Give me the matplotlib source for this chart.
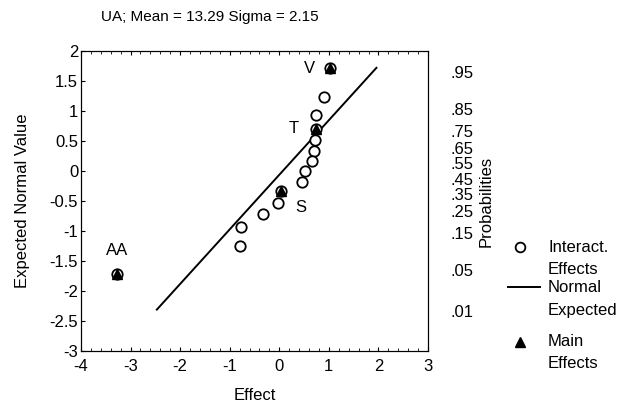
import numpy as np
import matplotlib
matplotlib.use("Agg")
import matplotlib.pyplot as plt
from matplotlib.lines import Line2D
from statistics import NormalDist

# DATA ################################################################
# Interaction effects (open circles)
inter_x = [0.90, 0.74, 0.72, 0.71, 0.67, 0.52, 0.45, -0.02, -0.32, -0.78, -0.79]
inter_y = [1.23, 0.93, 0.52, 0.33, 0.16, 0.00, -0.18, -0.53, -0.71, -0.94, -1.25]

# Main effects (filled triangles)
main_x = [1.03, 0.74, 0.03, -3.28]
main_y = [1.71, 0.70, -0.34, -1.71]

# Labels next to the effects
lbl_text = ["V", "T", "S", "AA"]
lbl_x = [0.60, 0.30, 0.44, -3.28]
lbl_y = [1.71, 0.71, -0.61, -1.33]

# Normal expected line end points
line_x = [-2.47, 1.96]
line_y = [-2.31, 1.72]

prob_labels = [".95", ".85", ".75", ".65", ".55", ".45", ".35", ".25", ".15", ".05", ".01"]
prob_values = [0.95, 0.85, 0.75, 0.65, 0.55, 0.45, 0.35, 0.25, 0.15, 0.05, 0.01]

# PLOT ################################################################
plt.rcParams['font.family'] = ['Liberation Sans', 'DejaVu Sans']
plt.rcParams['axes.unicode_minus'] = False
FS = 12

fig = plt.figure(figsize=(6.29, 4.03), dpi=100)
ax = fig.add_axes([81 / 629, 1 - 351 / 403, 347 / 629, 300 / 403])

ax.plot(line_x, line_y, color='black', lw=1.4, zorder=2)
ax.plot(inter_x, inter_y, 'o', ms=7.5, mfc='white', mec='black', mew=1.3, zorder=3)
ax.plot(main_x, main_y, 'o', ms=7.5, mfc='white', mec='black', mew=1.3, zorder=3)
ax.plot(main_x, main_y, '^', ms=7.5, mfc='black', mec='black', zorder=4)

for t, x, y in zip(lbl_text, lbl_x, lbl_y):
    ax.text(x, y, t, fontsize=FS, ha='center', va='center')

ax.set_xlim(-4, 3)
ax.set_ylim(-3, 2)
ax.set_xticks(np.arange(-4, 4, 1))
ax.set_xticks(np.arange(-4, 3.01, 0.2), minor=True)
ax.set_yticks(np.arange(-3, 2.01, 0.5))
ax.set_yticklabels(['-3', '-2.5', '-2', '-1.5', '-1', '-0.5', '0', '0.5', '1', '1.5', '2'])
ax.tick_params(axis='both', which='major', direction='in', length=3, width=0.8,
               labelsize=FS, top=True, right=True)
ax.tick_params(axis='x', which='minor', direction='in', length=2, width=0.6, top=True)
ax.tick_params(axis='y', which='minor', left=False, right=False)
ax.tick_params(axis='x', pad=6)
ax.tick_params(axis='y', pad=2)

ax.set_xlabel('Effect', fontsize=FS)
ax.xaxis.set_label_coords(0.5, -0.123)
ax.set_ylabel('Expected Normal Value', fontsize=FS)
ax.yaxis.set_label_coords(-0.146, 0.5)

# Probability axis on the right
ax2 = ax.twinx()
ax2.set_ylim(-3, 2)
ax2.set_yticks([NormalDist().inv_cdf(p) for p in prob_values])
ax2.set_yticklabels(prob_labels)
ax2.tick_params(axis='y', length=0, pad=16, labelsize=FS)
ax2.set_ylabel('Probabilities', fontsize=FS)
ax2.yaxis.set_label_coords(1.147, 0.5)

# Title
fig.text(210 / 629, 1 - 17 / 403, 'UA; Mean = 13.29 Sigma = 2.15',
         ha='center', va='center', fontsize=11)

# Legend drawn by hand
def fx(px):
    return px / 629


def fy(py):
    return 1 - py / 403


fig.add_artist(Line2D([fx(520)], [fy(247)], marker='o', ms=7, mfc='white',
                      mec='black', mew=1.3, transform=fig.transFigure))
fig.add_artist(Line2D([fx(508), fx(540)], [fy(287), fy(287)], color='black',
                      lw=1.4, transform=fig.transFigure))
fig.add_artist(Line2D([fx(520)], [fy(342)], marker='^', ms=7.5, mfc='black',
                      mec='black', transform=fig.transFigure))
leg_text = [("Interact.", 247), ("Effects", 270), ("Normal", 287),
            ("Expected", 310), ("Main", 342), ("Effects", 364)]
for t, py in leg_text:
    fig.text(fx(548), fy(py), t, ha='left', va='center', fontsize=FS)

plt.savefig("out.png", dpi=100)
